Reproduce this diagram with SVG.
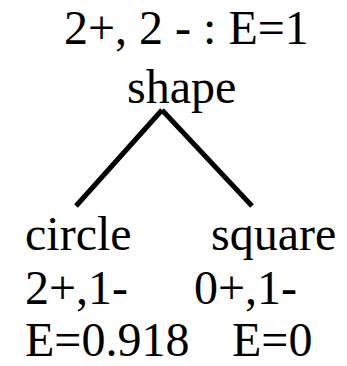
<svg xmlns="http://www.w3.org/2000/svg" width="347" height="366" viewBox="0 0 347 366">
<style>
.t{font-family:'Liberation Serif',Tinos,'Times New Roman','DejaVu Serif',serif;font-size:48px;fill:#000}
.e{stroke:#000;stroke-width:5;fill:none;stroke-linecap:butt}
</style>
<rect width="347" height="366" fill="#fff"/>
<g id="root" class="t">
<text x="64" y="44">2+, 2 - : E=1</text>
<text x="127" y="103">shape</text>
</g>
<g id="connectors">
<line class="e" x1="162" y1="110" x2="76" y2="206"/>
<line class="e" x1="162" y1="110" x2="252" y2="206"/>
</g>
<g id="circle" class="t">
<text x="25" y="250">circle</text>
<text x="25" y="304">2+,1-</text>
<text x="25" y="356">E=0.918</text>
</g>
<g id="square" class="t">
<text x="211" y="250">square</text>
<text x="194" y="304">0+,1-</text>
<text x="232" y="356">E=0</text>
</g>
</svg>
